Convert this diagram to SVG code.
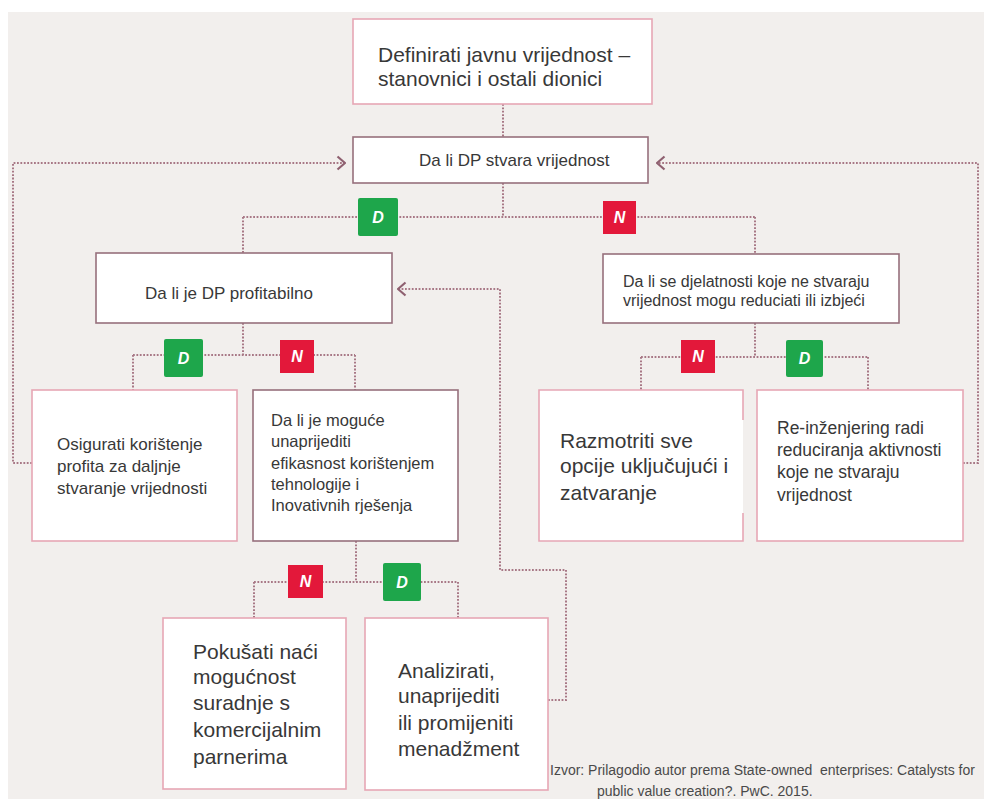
<svg xmlns="http://www.w3.org/2000/svg" width="993" height="799" viewBox="0 0 993 799">
<defs>
<style>
.bg{fill:#f2efed}
.box{fill:#ffffff;stroke:#e6a7b5;stroke-width:1.6}
.dark{stroke:#97707c}
.t{font-family:"Liberation Sans",Arial,sans-serif;fill:#383838}
.c{fill:none;stroke:#a87886;stroke-width:2;stroke-dasharray:1.8 1.6}
.chev{fill:none;stroke:#8f6070;stroke-width:2.2}
.bd{fill:#1ea64b}
.bn{fill:#e3183a}
.bt{font-family:"Liberation Sans",Arial,sans-serif;font-weight:bold;font-style:italic;font-size:16px;fill:#ffffff;text-anchor:middle}
.src{font-family:"Liberation Sans",Arial,sans-serif;font-size:14px;fill:#4a4a4a}
</style>
<marker id="arr" viewBox="0 0 10 16" refX="9" refY="8" markerWidth="10" markerHeight="16" markerUnits="userSpaceOnUse" orient="auto">
<path d="M1.5,1.5 L9,8 L1.5,14.5" class="chev"/>
</marker>
</defs>
<rect x="0" y="0" width="993" height="799" fill="#ffffff"/>
<rect class="bg" x="8" y="12" width="976" height="787"/>

<g id="connectors">
<path class="c" d="M503,104 V137"/>
<path class="c" d="M32,463 H13 V163 H345" marker-end="url(#arr)"/>
<path class="c" d="M963,463 H978 V163 H657" marker-end="url(#arr)"/>
<path class="c" d="M503,183 V217 M243,217 H755 M243,217 V253 M755,217 V254"/>
<path class="c" d="M243,323 V355 M133,355 H355 M133,355 V390 M355,355 V390"/>
<path class="c" d="M755,323 V357 M641,357 H868 M641,357 V390 M868,357 V390"/>
<path class="c" d="M356,541 V582 M254,582 H458 M254,582 V618 M458,582 V618"/>
<path class="c" d="M548,700 H566 V570 H500 V289 H398" marker-end="url(#arr)"/>
</g>

<g id="labels">
<g id="lbl-d1"><rect class="bd" x="358" y="198" width="40" height="38" rx="2"/><text class="bt" x="378" y="223">D</text></g>
<g id="lbl-n1"><rect class="bn" x="603" y="201" width="33" height="33"/><text class="bt" x="619.5" y="223">N</text></g>
<g id="lbl-d2"><rect class="bd" x="164" y="339" width="39" height="38" rx="2"/><text class="bt" x="183.5" y="364">D</text></g>
<g id="lbl-n2"><rect class="bn" x="280" y="340" width="34" height="33"/><text class="bt" x="297" y="362">N</text></g>
<g id="lbl-n3"><rect class="bn" x="681" y="340" width="34" height="33"/><text class="bt" x="698" y="362">N</text></g>
<g id="lbl-d3"><rect class="bd" x="786" y="340" width="37" height="37" rx="2"/><text class="bt" x="804.5" y="364">D</text></g>
<g id="lbl-n4"><rect class="bn" x="288" y="565" width="35" height="33"/><text class="bt" x="305.5" y="587">N</text></g>
<g id="lbl-d4"><rect class="bd" x="383" y="563" width="38" height="38" rx="2"/><text class="bt" x="402" y="588">D</text></g>
</g>

<g id="n1">
<rect class="box" x="353" y="19" width="299" height="85"/>
<text class="t" font-size="21" x="378" y="62">Definirati javnu vrijednost –</text>
<text class="t" font-size="21" x="378" y="86">stanovnici i ostali dionici</text>
</g>

<g id="n2">
<rect class="box dark" x="353" y="137" width="295" height="46"/>
<text class="t" font-size="17" x="419" y="166">Da li DP stvara vrijednost</text>
</g>

<g id="n3">
<rect class="box dark" x="96" y="253" width="296" height="70"/>
<text class="t" font-size="17" x="145" y="299">Da li je DP profitabilno</text>
</g>

<g id="n4">
<rect class="box dark" x="603" y="254" width="296" height="69"/>
<text class="t" font-size="16" x="623" y="287">Da li se djelatnosti koje ne stvaraju</text>
<text class="t" font-size="16" x="623" y="306">vrijednost mogu reduciati ili izbjeći</text>
</g>

<g id="n5">
<rect class="box" x="32" y="390" width="205" height="151"/>
<text class="t" font-size="17" x="57" y="450">Osigurati korištenje</text>
<text class="t" font-size="17" x="57" y="472">profita za daljnje</text>
<text class="t" font-size="17" x="57" y="494">stvaranje vrijednosti</text>
</g>

<g id="n6">
<rect class="box dark" x="253" y="390" width="205" height="151"/>
<text class="t" font-size="16.5" x="271" y="426">Da li je moguće</text>
<text class="t" font-size="16.5" x="271" y="447">unaprijediti</text>
<text class="t" font-size="16.5" x="271" y="469">efikasnost korištenjem</text>
<text class="t" font-size="16.5" x="271" y="490">tehnologije i</text>
<text class="t" font-size="16.5" x="271" y="511">Inovativnih rješenja</text>
</g>

<g id="n7">
<rect x="539" y="390" width="204" height="151" fill="#ffffff"/>
<path d="M743,420 V390 H539 V541 H743 V513" fill="none" stroke="#e6a7b5" stroke-width="1.6"/>
<text class="t" font-size="21" x="560" y="448">Razmotriti sve</text>
<text class="t" font-size="21" x="560" y="473">opcije uključujući i</text>
<text class="t" font-size="21" x="560" y="500">zatvaranje</text>
</g>

<g id="n8">
<rect class="box" x="757" y="390" width="206" height="151"/>
<text class="t" font-size="17.5" x="777" y="434">Re-inženjering radi</text>
<text class="t" font-size="17.5" x="777" y="456">reduciranja aktivnosti</text>
<text class="t" font-size="17.5" x="777" y="478">koje ne stvaraju</text>
<text class="t" font-size="17.5" x="777" y="501">vrijednost</text>
</g>

<g id="n9">
<rect class="box" x="163" y="618" width="183" height="171"/>
<text class="t" font-size="21" x="193" y="659">Pokušati naći</text>
<text class="t" font-size="21" x="193" y="684">mogućnost</text>
<text class="t" font-size="21" x="193" y="710">suradnje s</text>
<text class="t" font-size="21" x="193" y="737">komercijalnim</text>
<text class="t" font-size="21" x="193" y="764">parnerima</text>
</g>

<g id="n10">
<rect class="box" x="365" y="618" width="183" height="172"/>
<text class="t" font-size="21" x="398" y="678">Analizirati,</text>
<text class="t" font-size="21" x="398" y="703">unaprijediti</text>
<text class="t" font-size="21" x="398" y="730">ili promijeniti</text>
<text class="t" font-size="21" x="398" y="756">menadžment</text>
</g>

<g id="source">
<text class="src" x="550" y="775" xml:space="preserve">Izvor: Prilagodio autor prema State-owned  enterprises: Catalysts for</text>
<text class="src" x="597" y="796">public value creation?. PwC. 2015.</text>
</g>
</svg>
